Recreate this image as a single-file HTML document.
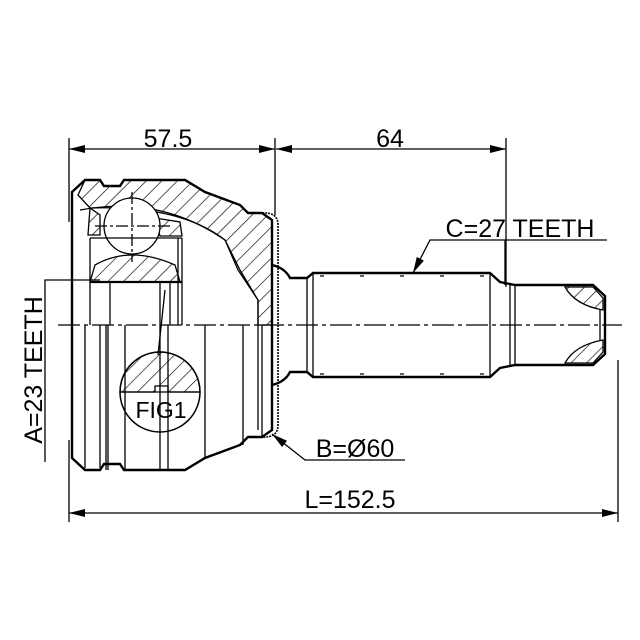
<!DOCTYPE html>
<html><head><style>html,body{margin:0;padding:0;background:#fff}svg{display:block}text{font-family:"Liberation Sans",sans-serif;fill:#000}</style></head>
<body>
<svg width="640" height="640" viewBox="0 0 640 640" xmlns="http://www.w3.org/2000/svg">
<defs>
<pattern id="h" width="11" height="11" patternUnits="userSpaceOnUse" patternTransform="rotate(45)">
<line x1="0" y1="0" x2="0" y2="11" stroke="#000" stroke-width="1.3"/>
</pattern>
<marker id="a" markerWidth="16" markerHeight="8" refX="16" refY="4" orient="auto" markerUnits="userSpaceOnUse"><path d="M0,0 L16,4 L0,8z" fill="#000"/></marker>
<marker id="as" markerWidth="16" markerHeight="8" refX="0" refY="4" orient="auto" markerUnits="userSpaceOnUse"><path d="M16,0 L0,4 L16,8z" fill="#000"/></marker>
</defs>
<g stroke="#000" fill="none" stroke-width="1.3">
<line x1="69" y1="138" x2="69" y2="222"/>
<line x1="275" y1="138" x2="275" y2="215"/>
<line x1="506" y1="138" x2="506" y2="287"/>
<line x1="69" y1="149" x2="275" y2="149" marker-start="url(#as)" marker-end="url(#a)"/>
<line x1="276" y1="149" x2="506" y2="149" marker-start="url(#as)" marker-end="url(#a)"/>
<line x1="69" y1="440" x2="69" y2="522"/>
<line x1="618" y1="360" x2="618" y2="522"/>
<line x1="69" y1="513" x2="618" y2="513" marker-start="url(#as)" marker-end="url(#a)"/>
<polyline points="607,240 430,240 413,273" marker-end="url(#a)"/>
<line x1="505" y1="240" x2="505" y2="285"/>
<polyline points="405,460 305,460 272,434" marker-end="url(#a)"/>
<polyline points="45,462 45,280 100,280"/>
<line x1="58" y1="325" x2="622" y2="325" stroke-dasharray="22,4,4,4"/>

<path d="M85,180 L100,180 L104,186 L120,186 L124,180 L185,180 L205,192 L240,205 L248,213 L262,213 L272,220 L272,325 L258,325 L258,300 L238,270 L225,240 Q180,205 90,208 L78,195 Z" fill="url(#h)"/>
<path d="M85,180 L100,180 L104,186 L120,186 L124,180 L185,180 L205,192 L240,205 L248,213 L262,213 L272,220 L272,430 L262,437 L248,437 L240,445 L205,458 L185,470 L124,470 L120,464 L104,464 L100,470 L85,470 L72,458 L72,192 Z" stroke-width="2.4"/>
<path d="M262,213 Q278,212 278,225 L278,425 Q278,438 262,437" stroke-width="1.6" stroke-dasharray="2,1"/>
<path d="M80,210 Q160,195 225,240 L240,270 L258,300 L258,430"/>
<path d="M90,208 L100,215 L100,235 L88,235 Z" fill="url(#h)"/>
<path d="M155,218 L180,222 L182,236 L160,236 Z" fill="url(#h)"/>
<path d="M95,265 Q130,245 175,265 L180,282 L90,282 Z" fill="url(#h)"/>
<circle cx="132" cy="226" r="28" fill="#fff"/>
<line x1="95" y1="226" x2="170" y2="226" stroke-dasharray="12,3,3,3"/>
<line x1="132" y1="192" x2="132" y2="262" stroke-dasharray="12,3,3,3"/>
<line x1="90" y1="238" x2="182" y2="238"/>
<line x1="90" y1="282" x2="182" y2="282" stroke-width="2.2"/>
<line x1="90" y1="238" x2="90" y2="325"/>
<line x1="182" y1="238" x2="182" y2="325"/>
<line x1="178" y1="238" x2="178" y2="325"/>
<line x1="110" y1="282" x2="110" y2="325"/>
<line x1="160" y1="282" x2="160" y2="325"/>
<line x1="170" y1="282" x2="170" y2="325"/>
<line x1="85" y1="325" x2="85" y2="468"/>
<line x1="100" y1="325" x2="100" y2="468"/>
<line x1="106" y1="325" x2="106" y2="470"/>
<line x1="108" y1="325" x2="108" y2="470"/>
<line x1="125" y1="325" x2="125" y2="470"/>
<line x1="160" y1="325" x2="160" y2="470"/>
<line x1="168" y1="325" x2="168" y2="470"/>
<line x1="205" y1="325" x2="205" y2="458"/>
<line x1="243" y1="325" x2="243" y2="445"/>
<line x1="262" y1="325" x2="262" y2="437"/>
<line x1="165" y1="290" x2="158" y2="355"/>
<path d="M120,392 A40,40 0 0 1 200,392 L168,392 L168,386 L155,386 L155,392 Z" fill="url(#h)"/>
<circle cx="160" cy="392" r="40" fill="none" stroke-width="1.5"/>
<line x1="120" y1="392" x2="200" y2="392"/>
<path d="M272,265 Q285,268 290,278 L307,278 L313,273 L490,273 L500,282 L515,285 L593,285 L605,296 L605,354 L593,365 L515,365 L500,368 L490,377 L313,377 L307,372 L290,372 Q285,382 272,385" stroke-width="2.4"/>
<line x1="307" y1="278" x2="307" y2="372"/>
<line x1="313" y1="273" x2="313" y2="377"/>
<line x1="490" y1="273" x2="490" y2="377"/>
<line x1="510" y1="285" x2="510" y2="365"/>
<line x1="515" y1="285" x2="515" y2="365"/>
<line x1="600" y1="310" x2="600" y2="340"/>
<line x1="320" y1="276" x2="485" y2="276" stroke-dasharray="4,36"/>
<line x1="320" y1="374" x2="485" y2="374" stroke-dasharray="4,36"/>
<path d="M565,287 Q575,305 603,310 L603,298 L593,287 Z" fill="url(#h)"/>
<path d="M565,363 Q575,345 603,340 L603,352 L593,363 Z" fill="url(#h)"/>
</g>
<text x="168" y="147" font-size="25" text-anchor="middle">57.5</text>
<text x="390" y="147" font-size="25" text-anchor="middle">64</text>
<text x="520" y="237" font-size="25" text-anchor="middle">C=27 TEETH</text>
<text x="355" y="457" font-size="25" text-anchor="middle">B=Ø60</text>
<text x="350" y="508" font-size="25" text-anchor="middle">L=152.5</text>
<text x="161" y="418" font-size="23" text-anchor="middle">FIG1</text>
<text transform="translate(42,370) rotate(-90)" font-size="25" text-anchor="middle">A=23 TEETH</text>
</svg>
</body></html>
